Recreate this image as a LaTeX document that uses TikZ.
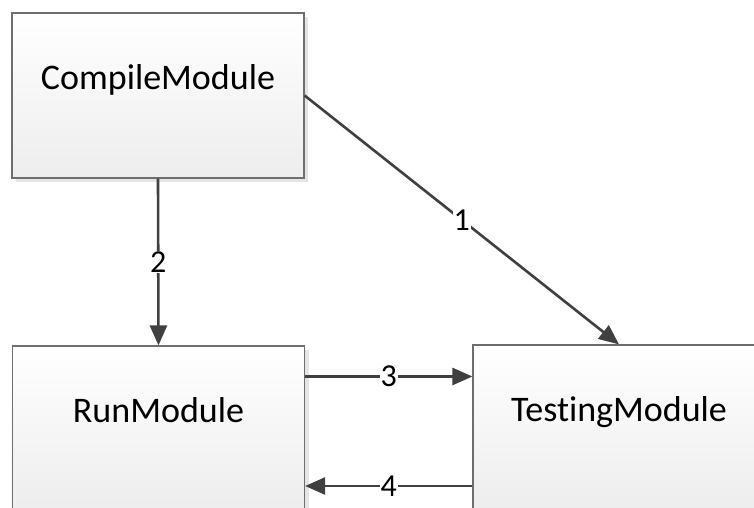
\documentclass[tikz,border=0pt]{standalone}
\usepackage{fontspec}
\setmainfont{Carlito}[Ligatures=NoCommon]
\usetikzlibrary{arrows.meta,shadows}
\definecolor{linegray}{HTML}{404040}
\definecolor{boxline}{HTML}{6E6E6E}
\tikzset{
  modbox/.style={draw=boxline,line width=1.2pt,top color=white,bottom color=black!7,
    minimum width=292pt,minimum height=165pt,text height=25pt,text depth=37pt,
    font=\fontsize{36}{43}\selectfont,
    drop shadow={shadow xshift=4pt,shadow yshift=-4pt,fill=black!10,opacity=1}},
  flow/.style={-{Triangle[length=20pt,width=17pt]},draw=linegray,line width=2.6pt},
  num/.style={fill=white,inner sep=1pt,font=\fontsize{32}{38}\selectfont}
}
\begin{document}
\begin{tikzpicture}[x=1pt,y=-1pt]
\useasboundingbox (0,0) rectangle (754,508);
\clip (0,0) rectangle (754,508);
\fill[white] (0,0) rectangle (754,508);

\node[modbox] (cmp) at (158,95.5) {CompileModule};
\node[modbox] (run) at (158.5,428.5) {RunModule};
\node[modbox] (tst) at (619,427.5) {TestingModule};

\draw[flow] (cmp.east) -- (tst.north) node[num,pos=0.5]{1};
\draw[flow] (cmp.south) -- (run.north) node[num,midway]{2};
\draw[flow] ([yshift=52pt]run.east) -- ([yshift=51pt]tst.west) node[num,midway]{3};
\draw[flow] ([yshift=-58.5pt]tst.west) -- ([yshift=-57.5pt]run.east) node[num,midway]{4};
\end{tikzpicture}
\end{document}
